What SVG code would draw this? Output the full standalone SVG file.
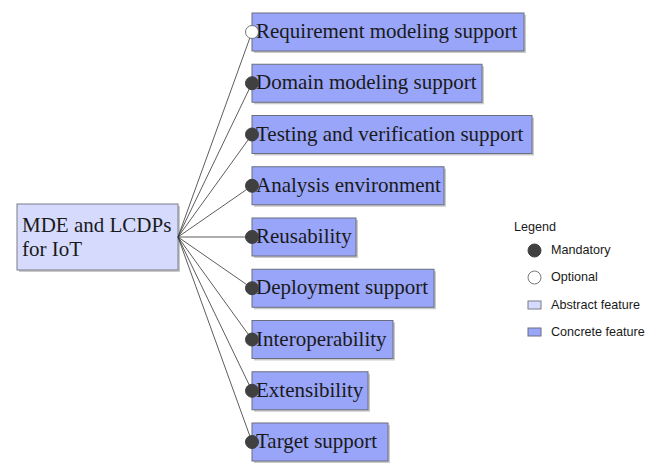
<svg xmlns="http://www.w3.org/2000/svg" width="647" height="464" viewBox="0 0 647 464">
<style>
.shadow{fill:#8a8a8a;opacity:0.45}
.concrete{fill:#99a5f8;stroke:#6a6f80;stroke-width:1}
.abstract{fill:#d6dbfd;stroke:#7a7d88;stroke-width:1}
.lbl{font-family:"Liberation Serif","Times New Roman",serif;font-size:21px;fill:#1a1a1a}
.leg{font-family:"Liberation Sans",Arial,sans-serif;font-size:12.6px;fill:#1a1a1a}
.mand{fill:#404040;stroke:#404040;stroke-width:1}
.opt{fill:#ffffff;stroke:#555555;stroke-width:0.8}
.conn{stroke:#333333;stroke-width:0.8;fill:none}
</style>
<rect width="647" height="464" fill="#ffffff"/>
<g id="root">
<rect class="shadow" x="19" y="206" width="161" height="66"/>
<rect class="abstract" x="17" y="204" width="161" height="66"/>
<text class="lbl" x="22" y="232">MDE and LCDPs</text>
<text class="lbl" x="22" y="256">for IoT</text>
</g>
<g id="connectors">
<line class="conn" x1="178" y1="237" x2="252" y2="32"/>
<line class="conn" x1="178" y1="237" x2="252" y2="83.25"/>
<line class="conn" x1="178" y1="237" x2="252" y2="134.5"/>
<line class="conn" x1="178" y1="237" x2="252" y2="185.75"/>
<line class="conn" x1="178" y1="237" x2="252" y2="237"/>
<line class="conn" x1="178" y1="237" x2="252" y2="288.25"/>
<line class="conn" x1="178" y1="237" x2="252" y2="339.5"/>
<line class="conn" x1="178" y1="237" x2="252" y2="390.75"/>
<line class="conn" x1="178" y1="237" x2="252" y2="442"/>
</g>
<g id="n1">
<rect class="shadow" x="254" y="15" width="272" height="38"/>
<rect class="concrete" x="252" y="13" width="272" height="38"/>
<text class="lbl" x="256" y="38">Requirement modeling support</text>
<circle class="opt" cx="252" cy="32" r="6.5"/>
</g>
<g id="n2">
<rect class="shadow" x="254" y="66.25" width="230" height="38"/>
<rect class="concrete" x="252" y="64.25" width="230" height="38"/>
<text class="lbl" x="256" y="89.25">Domain modeling support</text>
<circle class="mand" cx="252" cy="83.25" r="6.5"/>
</g>
<g id="n3">
<rect class="shadow" x="254" y="117.5" width="280" height="38"/>
<rect class="concrete" x="252" y="115.5" width="280" height="38"/>
<text class="lbl" x="256" y="140.5">Testing and verification support</text>
<circle class="mand" cx="252" cy="134.5" r="6.5"/>
</g>
<g id="n4">
<rect class="shadow" x="254" y="168.75" width="192" height="38"/>
<rect class="concrete" x="252" y="166.75" width="192" height="38"/>
<text class="lbl" x="256" y="191.75">Analysis environment</text>
<circle class="mand" cx="252" cy="185.75" r="6.5"/>
</g>
<g id="n5">
<rect class="shadow" x="254" y="220" width="104" height="38"/>
<rect class="concrete" x="252" y="218" width="104" height="38"/>
<text class="lbl" x="256" y="243">Reusability</text>
<circle class="mand" cx="252" cy="237" r="6.5"/>
</g>
<g id="n6">
<rect class="shadow" x="254" y="271.25" width="182" height="38"/>
<rect class="concrete" x="252" y="269.25" width="182" height="38"/>
<text class="lbl" x="256" y="294.25">Deployment support</text>
<circle class="mand" cx="252" cy="288.25" r="6.5"/>
</g>
<g id="n7">
<rect class="shadow" x="254" y="322.5" width="141" height="38"/>
<rect class="concrete" x="252" y="320.5" width="141" height="38"/>
<text class="lbl" x="256" y="345.5">Interoperability</text>
<circle class="mand" cx="252" cy="339.5" r="6.5"/>
</g>
<g id="n8">
<rect class="shadow" x="254" y="373.75" width="116" height="38"/>
<rect class="concrete" x="252" y="371.75" width="116" height="38"/>
<text class="lbl" x="256" y="396.75">Extensibility</text>
<circle class="mand" cx="252" cy="390.75" r="6.5"/>
</g>
<g id="n9">
<rect class="shadow" x="254" y="425" width="136" height="38"/>
<rect class="concrete" x="252" y="423" width="136" height="38"/>
<text class="lbl" x="256" y="448">Target support</text>
<circle class="mand" cx="252" cy="442" r="6.5"/>
</g>
<g id="legend">
<text class="leg" x="514" y="231">Legend</text>
<circle class="mand" cx="534.5" cy="250.5" r="6.5"/>
<text class="leg" x="551" y="254">Mandatory</text>
<circle class="opt" cx="534.5" cy="277.5" r="6.5"/>
<text class="leg" x="551" y="281">Optional</text>
<rect class="abstract" x="528" y="301" width="13" height="8"/>
<text class="leg" x="551" y="309">Abstract feature</text>
<rect class="concrete" x="528" y="328" width="13" height="8"/>
<text class="leg" x="551" y="336">Concrete feature</text>
</g>
</svg>
